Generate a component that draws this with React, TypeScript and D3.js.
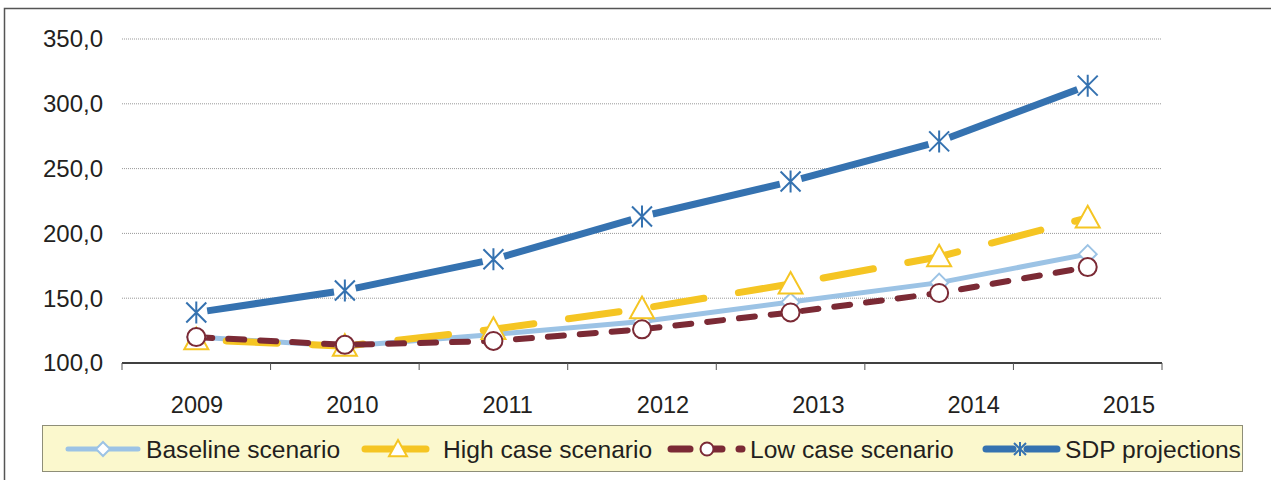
import React from "react";
import * as d3 from "d3";

const years = ["2009", "2010", "2011", "2012", "2013", "2014", "2015"];
const baseline = [120, 113, 122, 132, 147, 162, 184];
const highCase = [118, 113, 126, 142, 161, 182, 212];
const lowCase = [120, 114, 117, 126, 139, 154, 174];
const sdp = [139, 156, 180, 213, 240, 271, 314];
const yTicks = [100, 150, 200, 250, 300, 350];

const W = 1271, H = 480;
const plot = { left: 122, right: 1162, top: 39, bottom: 363 };
const FONT = "'Liberation Sans', Arial, sans-serif";
const C = {
  base: "#9CC3E5",
  high: "#F5C523",
  low: "#7B2A35",
  sdp: "#3572B0",
  text: "#231F20",
};

export default function App() {
  const x = d3.scaleBand<string>().domain(years).range([plot.left, plot.right]);
  const cx = (d: string) => (x(d) as number) + x.bandwidth() / 2;
  const xLabel = d3.scalePoint<string>().domain(years).range([197, 1129]);
  const y = d3.scaleLinear().domain([100, 350]).range([plot.bottom, plot.top]);
  const line = d3.line<number>().x((_, i) => cx(years[i])).y((v) => y(v));

  const diamond = (px: number, py: number, key: string, s = 9) => (
    <path key={key} d={`M${px},${py - s}L${px + s},${py}L${px},${py + s}L${px - s},${py}Z`} fill="#fff" stroke={C.base} strokeWidth={2} />
  );
  const triangle = (px: number, py: number, key: string, s = 12) => (
    <path key={key} d={`M${px},${py - s}L${px + s},${py + s * 0.8}L${px - s},${py + s * 0.8}Z`} fill="#fff" stroke={C.high} strokeWidth={2} />
  );
  const circle = (px: number, py: number, key: string, r = 9) => (
    <circle key={key} cx={px} cy={py} r={r} fill="#fff" stroke={C.low} strokeWidth={2} />
  );
  const star = (px: number, py: number, key: string, s = 10) => (
    <path key={key} d={`M${px - s},${py - s}L${px + s},${py + s}M${px - s},${py + s}L${px + s},${py - s}M${px},${py - s - 1}L${px},${py + s + 1}`} stroke={C.sdp} strokeWidth={2} fill="none" />
  );

  // SDP segments with gaps around markers
  const sdpSegs = sdp.slice(1).map((v, i) => {
    const x0 = cx(years[i]), y0 = y(sdp[i]), x1 = cx(years[i + 1]), y1 = y(v);
    const len = Math.hypot(x1 - x0, y1 - y0);
    const g = 11;
    const ux = (x1 - x0) / len, uy = (y1 - y0) / len;
    return (
      <line key={i} x1={x0 + ux * g} y1={y0 + uy * g} x2={x1 - ux * g} y2={y1 - uy * g} stroke={C.sdp} strokeWidth={7} />
    );
  });

  const ly = 449;
  const LFS = 24.6;

  return (
    <svg width={W} height={H} style={{ position: "absolute", left: 0, top: 0 }} fontFamily={FONT}>
      <rect x={0} y={0} width={W} height={H} fill="#fff" />
      <path d={`M4.5,${H + 5}V8.5H${W + 5}`} fill="none" stroke="#555" strokeWidth={1.5} />

      {yTicks.map((t) => (
        <g key={t}>
          {t !== 100 && (
            <line x1={plot.left} x2={plot.right} y1={y(t)} y2={y(t)} stroke="#999" strokeWidth={1} strokeDasharray="1 1" />
          )}
          <text x={103} y={y(t)} dy="0.35em" textAnchor="end" fontSize={24} fill={C.text}>
            {d3.format(".1f")(t).replace(".", ",")}
          </text>
        </g>
      ))}
      <line x1={plot.left} x2={plot.right} y1={plot.bottom} y2={plot.bottom} stroke="#000" strokeWidth={1.5} />
      {years.concat(["end"]).map((d, i) => {
        const px = plot.left + i * x.bandwidth();
        return <line key={d} x1={px} x2={px} y1={plot.bottom} y2={plot.bottom + 7} stroke="#555" strokeWidth={1} />;
      })}
      {years.map((d) => (
        <text key={d} x={xLabel(d)} y={405} dy="0.35em" textAnchor="middle" fontSize={23.5} fill={C.text}>{d}</text>
      ))}

      <path d={line(baseline) || ""} fill="none" stroke={C.base} strokeWidth={5} />
      <path d={line(highCase) || ""} fill="none" stroke={C.high} strokeWidth={7} strokeDasharray="51 35" strokeLinecap="round" strokeDashoffset={-30} />
      <path d={line(lowCase) || ""} fill="none" stroke={C.low} strokeWidth={6} strokeDasharray="16 16" strokeLinecap="round" />
      {sdpSegs}

      {baseline.map((v, i) => diamond(cx(years[i]), y(v), "b" + i))}
      {highCase.map((v, i) => triangle(cx(years[i]), y(v), "h" + i))}
      {lowCase.map((v, i) => circle(cx(years[i]), y(v), "l" + i))}
      {sdp.map((v, i) => star(cx(years[i]), y(v), "s" + i))}

      <rect x={42.5} y={425.5} width={1200} height={46} fill="#FBF8CD" stroke="#8E8E78" strokeWidth={1} />

      {/* Baseline */}
      <line x1={68} x2={138} y1={ly} y2={ly} stroke={C.base} strokeWidth={5} strokeLinecap="round" />
      {diamond(103, ly, "lb", 7)}
      <text x={146} y={ly} dy="0.35em" fontSize={LFS} fill={C.text}>Baseline scenario</text>

      {/* High */}
      <line x1={365} x2={426} y1={ly} y2={ly} stroke={C.high} strokeWidth={7} strokeLinecap="round" />
      {triangle(398, ly, "lh", 9)}
      <text x={443} y={ly} dy="0.35em" fontSize={LFS} fill={C.text}>High case scenario</text>

      {/* Low */}
      <line x1={671} x2={690} y1={ly} y2={ly} stroke={C.low} strokeWidth={7} strokeLinecap="round" />
      <line x1={714} x2={722} y1={ly} y2={ly} stroke={C.low} strokeWidth={7} strokeLinecap="round" />
      <line x1={739} x2={742} y1={ly} y2={ly} stroke={C.low} strokeWidth={7} strokeLinecap="round" />
      {circle(707, ly, "ll", 6.5)}
      <text x={750} y={ly} dy="0.35em" fontSize={LFS} fill={C.text}>Low case scenario</text>

      {/* SDP */}
      <line x1={986} x2={1013} y1={ly} y2={ly} stroke={C.sdp} strokeWidth={7} strokeLinecap="round" />
      <line x1={1027} x2={1057} y1={ly} y2={ly} stroke={C.sdp} strokeWidth={7} strokeLinecap="round" />
      {star(1020, ly, "ls", 6)}
      <text x={1065} y={ly} dy="0.35em" fontSize={LFS} fill={C.text}>SDP projections</text>
    </svg>
  );
}
